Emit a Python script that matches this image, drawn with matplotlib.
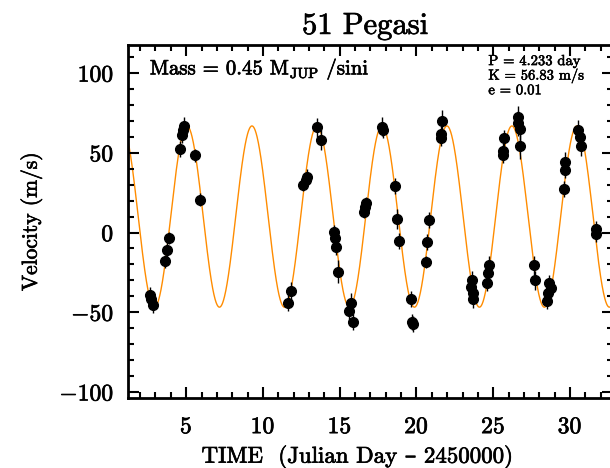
import numpy as np
import matplotlib
matplotlib.use("Agg")
import matplotlib.pyplot as plt
import matplotlib.patheffects as pe
from matplotlib.ticker import MultipleLocator

plt.rcParams['font.family'] = ['cmr10', 'DejaVu Serif']
plt.rcParams['mathtext.fontset'] = 'cm'
plt.rcParams['axes.formatter.use_mathtext'] = True

# ---- data ----
time = [2.65, 2.72, 2.87, 3.63, 3.74, 3.89, 4.61, 4.72, 4.80, 4.88, 5.59, 5.87,
        11.64, 11.83, 12.62, 12.80, 12.88, 13.53, 13.81, 14.62, 14.68, 14.79, 14.88,
        15.60, 15.71, 15.86, 16.57, 16.65, 16.68, 17.77, 17.84, 18.58, 18.75, 18.86,
        19.62, 19.70, 19.77, 20.60, 20.71, 20.82, 21.58, 21.62, 21.69,
        23.58, 23.62, 23.68, 23.71, 24.58, 24.63, 24.73, 25.61, 25.65, 25.71,
        26.59, 26.63, 26.72, 26.76, 27.63, 27.72, 28.50, 28.58, 28.65, 28.76,
        29.59, 29.67, 29.70, 30.50, 30.67, 30.72, 31.68, 31.72]
velocity = [-39, -42, -45.5, -18, -11, -3.5, 52.5, 61, 64, 66.5, 48.5, 20.5,
            -44, -37, 30, 33, 35, 66, 58, 0.5, -3.5, -9, -24.5,
            -49.5, -44, -56, 13, 16, 18.5, 66.3, 64, 29, 8.5, -5.5,
            -42, -56, -57.5, -18.5, -6, 8, 59, 61.5, 70,
            -34, -30, -38, -41.5, -31.5, -25.5, -20.5, 48.5, 51, 59,
            72.5, 68.5, 65, 54, -20.5, -30, -43, -38, -31.5, -35,
            27.5, 39, 44.5, 64.3, 60, 54, 2.5, -1]
error = [5, 4, 5, 4, 5, 4, 5, 5, 5, 6, 4, 4,
         5, 6, 4, 4, 5, 6, 6, 4, 4, 5, 7,
         5, 6, 5, 4, 5, 4, 6, 5, 5, 6, 5,
         5, 5, 5, 4, 5, 5, 5, 5, 7,
         5, 6, 7, 6, 5, 5, 6, 5, 5, 5,
         7, 8, 9, 8, 6, 6, 5, 5, 5, 5,
         5, 5, 6, 6, 6, 6, 5, 5]

# orbital fit parameters
period = 4.233       # day
semi_amp = 56.83     # m/s
ecc = 0.01
gamma = 10.0         # m/s offset
t_peak = 5.05        # time of maximum velocity

xlim = (1.21, 32.8)
ylim = (-103.8, 117.6)

bold = [pe.withStroke(linewidth=0.5, foreground='black')]

fig = plt.figure(figsize=(6.10, 4.68), dpi=100)
ax = fig.add_axes([128/610, 70/468, 485/610, 353/468])

tt = np.linspace(xlim[0], xlim[1], 2000)
model = gamma + semi_amp * np.cos(2*np.pi*(tt - t_peak)/period)
ax.plot(tt, model, color='#ff8c00', lw=1.0, zorder=1)

ax.errorbar(time, velocity, yerr=error, fmt='o', color='black', ms=7,
            elinewidth=1.0, capsize=0, zorder=3)

ax.set_xlim(*xlim)
ax.set_ylim(*ylim)
ax.xaxis.set_major_locator(MultipleLocator(5))
ax.xaxis.set_minor_locator(MultipleLocator(1))
ax.yaxis.set_major_locator(MultipleLocator(50))
ax.yaxis.set_minor_locator(MultipleLocator(10))
ax.tick_params(which='both', direction='in', top=True, right=True, width=1.5,
               labelsize=17, colors='black')
ax.tick_params(which='major', length=8, pad=10)
ax.tick_params(axis='x', which='major', pad=13)
ax.tick_params(which='minor', length=4)
for s in ax.spines.values():
    s.set_linewidth(2)
for lab in ax.get_xticklabels() + ax.get_yticklabels():
    lab.set_path_effects(bold)

ax.set_title('51 Pegasi', fontsize=22, pad=8, x=0.489, path_effects=bold)
ax.set_xlabel('TIME  (Julian Day \u2013 2450000)', fontsize=16.5,
              path_effects=bold)
ax.xaxis.set_label_coords(0.472, -0.135)
ax.set_ylabel('Velocity (m/s)', fontsize=15.5, labelpad=12, path_effects=bold)

ax.text(0.045, 0.965, r'Mass = 0.45 M$_{\rm JUP}$ /sini', transform=ax.transAxes,
        fontsize=15, va='top', ha='left', path_effects=bold)
ax.text(0.743, 0.975, 'P = 4.233 day\nK = 56.83 m/s\ne = 0.01', transform=ax.transAxes,
        fontsize=10.5, va='top', ha='left', linespacing=1.0,
        path_effects=[pe.withStroke(linewidth=0.4, foreground='black')])

fig.savefig('out.png', dpi=100)
